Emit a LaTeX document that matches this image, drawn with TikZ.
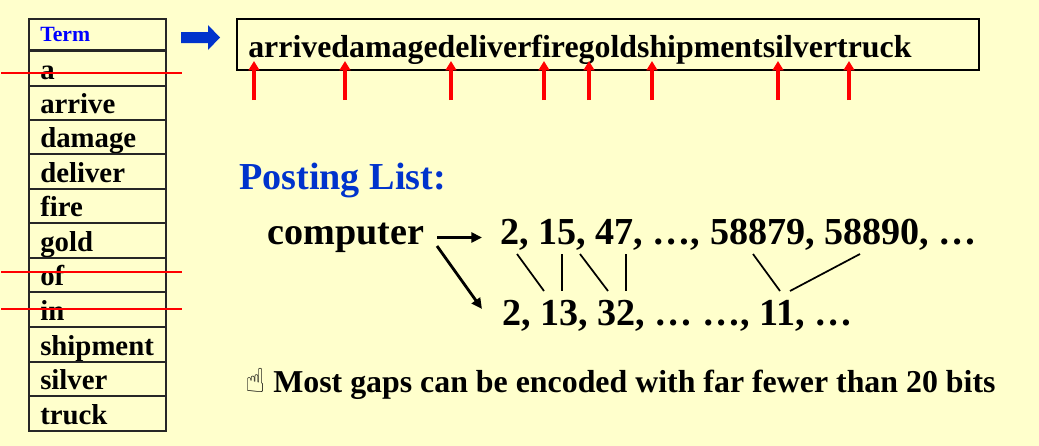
\documentclass[tikz,border=0pt]{standalone}
\usepackage{fontspec}
\setmainfont{Liberation Serif}
\newfontfamily\handfont{DejaVu Sans}
\usetikzlibrary{arrows.meta,positioning,calc}
\definecolor{slidebg}{HTML}{FFFFCC}
\definecolor{titleblue}{HTML}{0033CC}

\begin{document}
\begin{tikzpicture}[
		x=0.75pt, y=-0.75pt,
		termrow/.style={draw=black!85,line width=1.5pt,minimum width=102.75pt,inner sep=0pt,anchor=north west},
		wordtext/.style={font=\bfseries\fontsize{21.6}{22}\selectfont,inner sep=0pt,anchor=base west},
		bigtext/.style={font=\bfseries\fontsize{28.6}{30}\selectfont,inner sep=0pt,anchor=base west},
		strike/.style={red,line width=1.3pt},
		pointer/.style={red,line width=2.3pt,-{Triangle[length=7pt,width=8pt]}},
		link/.style={black,line width=1.3pt},
		listarrow/.style={black,line width=2.1pt,-{Triangle[length=8pt,width=7.5pt]}}
	]

	\fill[slidebg] (0,0) rectangle (1039,446);
	\useasboundingbox (0,0) rectangle (1039,446);

	% term table
	\node[termrow,minimum height=23.6pt] (term) at (28,18) {};
	\node[inner sep=0pt,anchor=base west,text=blue,font=\bfseries\fontsize{16.3}{17}\selectfont] (termtext) at (40,41) {Term};
	\foreach \word/\ya/\yb in {a/50/84.5,arrive/84.5/118.8,damage/118.8/153.3,deliver/153.3/187.8,fire/187.8/222.3,gold/222.3/256.8,of/256.8/291.3,in/291.3/325.8,shipment/325.8/360.5,silver/360.5/395,truck/395/429.5} {
		\node[termrow,minimum height={(\yb-\ya)*0.75pt}] (row\word) at (28,\ya) {};
		\node[wordtext] (txt\word) at (40,\yb-5.5) {\word};
	}

	% crossed out words
	\foreach \word/\y in {a/73,of/272,in/309} {
		\coordinate (sl\word) at (1,\y);
		\coordinate (sr\word) at (182,\y);
		\draw[strike] (sl\word) -- (sr\word);
	}

	\fill[titleblue] (181,32) -- (208,32) -- (208,25) -- (220,37.5) -- (208,50) -- (208,43) -- (181,43) -- cycle;

	% dictionary as a string
	\node[draw,line width=1.5pt,minimum width=556.5pt,minimum height=38.5pt,anchor=north west,inner sep=0pt] (dict) at (236,18) {};
	\node[wordtext,font=\bfseries\fontsize{23.9}{24}\selectfont] (dicttext) at (248,57) {arrivedamagedeliverfiregoldshipmentsilvertruck};

	\foreach \x [count=\i] in {254,345,451,544,589,652,778,849} {
		\coordinate (pa\i) at (\x,100);
		\coordinate (pb\i) at (\x,61);
		\draw[pointer] (pa\i) -- (pb\i);
	}

	% posting list
	\node[bigtext,text=titleblue] (title) at (239,189) {Posting List:};
	\node[bigtext] (computer) at (267,244) {computer};
	\node[bigtext] (list) at (500,244) {2, 15, 47, …, 58879, 58890, …};
	\node[bigtext] (gaps) at (502,325) {2, 13, 32, … …, 11, …};

	\coordinate (cr) at (437,237.5);
	\coordinate (cd) at (437,246);
	\coordinate (lr) at (482,237.5);
	\coordinate (gd) at (482,309);
	\draw[listarrow,line width=2.6pt] (cr) -- (lr);
	\draw[listarrow] (cd) -- (gd);

	\foreach \xa/\xb [count=\i] in {517/544,562/562,580/608,626/626,753/780,860/790} {
		\coordinate (la\i) at (\xa,254);
		\coordinate (lb\i) at (\xb,291);
		\draw[link] (la\i) -- (lb\i);
	}

	% note
	\node[inner sep=0pt,anchor=base west,font=\handfont\fontsize{25}{26}\selectfont] (hand) at (245,392) {☝};
	\node[wordtext,font=\bfseries\fontsize{23.9}{24}\selectfont] (note) at (273,392) {Most gaps can be encoded with far fewer than 20 bits};

\end{tikzpicture}
\end{document}
